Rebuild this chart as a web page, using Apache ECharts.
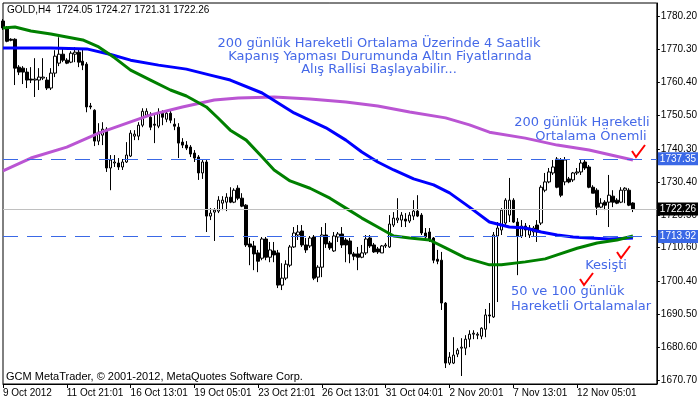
<!DOCTYPE html>
<html>
<head>
<meta charset="utf-8">
<title>GOLD,H4</title>
<script src="https://cdn.jsdelivr.net/npm/echarts@6/dist/echarts.min.js"></script>
<style>
html, body { margin: 0; padding: 0; background: #fff; }
#chart { width: 700px; height: 402px; }
</style>
</head>
<body>
<div id="chart"></div>
<script>
// GOLD H4 mumları, ilk bar 9 Oct 2012 05:01
const barsPerTick = 16;
const tickLabels = ['9 Oct 2012', '11 Oct 21:01', '16 Oct 13:01', '19 Oct 05:01', '23 Oct 21:01',
  '26 Oct 13:01', '31 Oct 04:01', '2 Nov 20:01', '7 Nov 13:01', '12 Nov 05:01'];
const emptySlots = 6; // sağdaki boşluk (chart shift)

const openPrices = [
  1778.9, 1776.8, 1773.4, 1773.4, 1765.0, 1764.7, 1763.5, 1761.4, 1761.1, 1761.1,
  1761.7, 1761.1, 1758.7, 1763.2, 1766.2, 1768.9, 1767.1, 1766.5, 1768.9, 1769.5,
  1766.8, 1765.9, 1753.3, 1752.0, 1742.7, 1744.5, 1746.3, 1734.6, 1736.1, 1736.1,
  1734.9, 1736.4, 1738.2, 1744.2, 1744.2, 1747.5, 1750.5, 1749.9, 1747.8, 1747.2,
  1751.1, 1749.3, 1751.1, 1747.8, 1746.9, 1742.4, 1741.5, 1740.9, 1739.1, 1737.9,
  1733.1, 1736.4, 1720.1, 1721.3, 1721.6, 1724.0, 1724.3, 1725.8, 1724.3, 1728.5,
  1725.5, 1723.4, 1711.7, 1711.1, 1709.0, 1707.4, 1713.2, 1707.7, 1709.6, 1709.0,
  1699.3, 1701.4, 1705.3, 1710.8, 1714.4, 1715.6, 1711.4, 1711.1, 1713.8, 1701.7,
  1704.7, 1714.4, 1712.0, 1709.6, 1713.8, 1714.7, 1712.9, 1712.6, 1708.7, 1708.7,
  1707.7, 1709.0, 1713.5, 1711.4, 1710.2, 1709.0, 1711.1, 1710.8, 1717.4, 1718.9,
  1718.9, 1719.2, 1718.6, 1720.1, 1721.6, 1720.4, 1715.0, 1715.3, 1713.5, 1707.1,
  1706.8, 1693.9, 1675.8, 1675.8, 1678.5, 1680.3, 1680.3, 1683.0, 1684.5, 1684.2,
  1683.9, 1686.0, 1690.3, 1689.7, 1714.1, 1715.9, 1718.0, 1720.4, 1724.9, 1718.3,
  1714.1, 1717.1, 1714.4, 1715.3, 1717.4, 1718.0, 1727.9, 1730.4, 1733.1, 1737.3,
  1737.0, 1730.4, 1731.3, 1731.0, 1733.1, 1733.4, 1736.4, 1734.9, 1728.8, 1727.9,
  1722.8, 1724.3, 1724.3, 1726.1, 1724.9, 1724.3, 1727.9, 1727.9, 1724.05
];
const closePrices = [
  1776.8, 1772.8, 1773.1, 1764.7, 1763.5, 1763.5, 1761.1, 1761.1, 1761.4, 1762.0,
  1762.0, 1758.7, 1763.2, 1768.3, 1768.9, 1767.1, 1766.2, 1769.2, 1769.5, 1766.5,
  1765.6, 1753.0, 1753.0, 1742.7, 1745.4, 1746.3, 1734.6, 1737.0, 1736.4, 1734.9,
  1736.4, 1738.5, 1745.1, 1744.8, 1747.5, 1751.7, 1751.7, 1746.9, 1747.5, 1751.4,
  1749.9, 1751.1, 1749.0, 1747.2, 1742.1, 1741.5, 1740.6, 1738.8, 1737.6, 1733.1,
  1736.4, 1720.1, 1721.0, 1721.9, 1724.9, 1724.9, 1725.8, 1724.3, 1727.9, 1725.5,
  1723.1, 1711.4, 1710.8, 1708.7, 1706.5, 1713.2, 1707.7, 1709.9, 1708.4, 1699.3,
  1701.4, 1705.6, 1710.8, 1715.0, 1715.3, 1711.4, 1709.9, 1713.5, 1701.4, 1704.7,
  1714.4, 1711.7, 1710.5, 1714.1, 1714.7, 1711.4, 1711.4, 1708.7, 1708.0, 1707.7,
  1709.0, 1713.2, 1711.1, 1709.3, 1709.3, 1711.1, 1711.4, 1717.7, 1719.5, 1719.5,
  1720.4, 1718.6, 1720.4, 1721.6, 1720.1, 1715.0, 1713.8, 1713.2, 1706.8, 1706.5,
  1693.9, 1675.8, 1677.6, 1678.2, 1679.7, 1680.6, 1683.0, 1684.5, 1684.8, 1684.5,
  1686.3, 1690.3, 1690.0, 1714.4, 1716.5, 1721.9, 1724.9, 1724.9, 1718.3, 1714.1,
  1717.1, 1715.9, 1716.5, 1716.5, 1715.3, 1728.8, 1730.4, 1733.4, 1734.9, 1728.8,
  1726.4, 1737.0, 1730.4, 1733.1, 1733.4, 1736.1, 1734.6, 1728.8, 1727.0, 1722.8,
  1724.0, 1723.4, 1726.4, 1724.3, 1724.0, 1727.9, 1728.5, 1723.4, 1722.26
];
const lowPrices = [
  1776.2, 1772.5, 1772.8, 1759.6, 1762.6, 1759.9, 1758.7, 1760.2, 1756.0, 1758.1,
  1761.1, 1758.1, 1758.1, 1762.0, 1765.3, 1766.5, 1765.9, 1766.2, 1766.5, 1765.0,
  1764.1, 1751.4, 1752.3, 1741.2, 1741.5, 1741.5, 1733.4, 1727.9, 1734.9, 1734.0,
  1734.0, 1736.1, 1737.9, 1743.0, 1743.0, 1746.9, 1749.9, 1746.0, 1742.1, 1746.6,
  1747.5, 1748.4, 1748.1, 1746.0, 1737.6, 1740.6, 1740.0, 1737.9, 1736.4, 1731.0,
  1731.3, 1715.3, 1718.9, 1712.6, 1721.0, 1721.9, 1721.6, 1724.0, 1724.0, 1724.9,
  1722.8, 1710.8, 1705.3, 1703.8, 1703.2, 1706.8, 1706.8, 1706.2, 1706.2, 1698.4,
  1697.8, 1700.8, 1704.7, 1710.5, 1712.9, 1710.8, 1709.0, 1710.5, 1700.8, 1700.2,
  1701.7, 1710.5, 1709.9, 1709.3, 1712.3, 1710.5, 1706.2, 1705.9, 1706.8, 1703.8,
  1707.4, 1708.4, 1710.5, 1709.0, 1708.7, 1709.0, 1710.5, 1710.5, 1716.8, 1718.0,
  1716.8, 1716.8, 1718.0, 1718.9, 1719.8, 1714.4, 1712.9, 1712.3, 1705.9, 1705.6,
  1691.8, 1674.3, 1675.2, 1675.5, 1677.6, 1671.9, 1678.2, 1680.6, 1683.0, 1683.0,
  1683.0, 1683.6, 1687.8, 1689.4, 1694.2, 1714.4, 1716.8, 1718.3, 1718.0, 1702.3,
  1713.5, 1713.8, 1713.5, 1714.1, 1712.3, 1717.4, 1727.3, 1730.0, 1732.5, 1728.5,
  1725.8, 1729.4, 1730.0, 1730.4, 1732.5, 1732.5, 1734.0, 1728.5, 1727.0, 1720.4,
  1722.5, 1721.9, 1716.8, 1722.8, 1723.7, 1724.0, 1724.0, 1723.1, 1721.31
];
const highPrices = [
  1779.5, 1777.4, 1773.7, 1773.7, 1765.6, 1765.3, 1764.7, 1765.0, 1767.7, 1764.7,
  1767.7, 1762.0, 1764.7, 1770.1, 1774.0, 1771.0, 1767.7, 1769.8, 1771.0, 1770.7,
  1770.7, 1766.5, 1754.2, 1752.3, 1748.1, 1748.4, 1746.9, 1738.5, 1738.5, 1737.6,
  1737.3, 1742.4, 1746.0, 1746.0, 1748.4, 1752.6, 1752.6, 1751.4, 1751.1, 1752.6,
  1752.0, 1752.0, 1752.0, 1749.6, 1748.1, 1743.6, 1742.7, 1741.5, 1740.0, 1738.5,
  1737.0, 1737.0, 1722.5, 1722.5, 1726.1, 1726.1, 1727.0, 1728.8, 1728.5, 1729.4,
  1727.0, 1723.7, 1713.5, 1712.6, 1709.9, 1713.8, 1713.8, 1712.3, 1712.3, 1709.9,
  1705.9, 1706.8, 1711.4, 1716.8, 1717.4, 1717.4, 1713.5, 1714.1, 1714.4, 1705.3,
  1716.8, 1718.0, 1712.6, 1715.3, 1715.3, 1716.8, 1713.5, 1713.5, 1709.3, 1710.8,
  1711.4, 1714.4, 1714.4, 1712.0, 1710.8, 1711.4, 1712.0, 1720.4, 1721.3, 1725.5,
  1721.3, 1721.0, 1721.3, 1724.9, 1726.4, 1721.0, 1716.5, 1716.5, 1713.8, 1709.9,
  1709.3, 1694.2, 1679.1, 1683.6, 1680.3, 1683.3, 1684.2, 1685.7, 1685.7, 1685.1,
  1686.6, 1692.1, 1693.9, 1715.3, 1718.3, 1722.5, 1725.5, 1731.6, 1725.5, 1719.5,
  1718.9, 1718.0, 1717.4, 1717.1, 1718.9, 1729.4, 1733.1, 1734.6, 1737.0, 1737.9,
  1737.6, 1737.9, 1731.9, 1733.4, 1734.6, 1737.0, 1737.3, 1735.5, 1729.4, 1728.5,
  1725.5, 1724.9, 1732.5, 1727.9, 1725.5, 1728.8, 1728.8, 1728.5, 1724.27
];

// hareketli ortalamalar, grafikten okunan noktalar [bar, fiyat]
const ma50 = [[0, 1776.8], [3, 1777.1], [7, 1775.9], [12, 1775.0], [16, 1774.1], [20, 1773.2],
  [24, 1771.1], [28, 1767.8], [32, 1764.1], [37, 1761.1], [42, 1758.1], [46, 1756.3],
  [51, 1753.0], [54, 1749.6], [57, 1746.0], [61, 1743.0], [65, 1737.9], [68, 1734.0],
  [72, 1730.7], [77, 1728.5], [82, 1725.5], [86, 1722.5], [90, 1719.5], [94, 1716.8],
  [98, 1714.1], [102, 1713.5], [107, 1712.9], [111, 1710.5], [116, 1707.5], [122, 1705.4],
  [125, 1705.4], [131, 1706.3], [136, 1707.2], [139, 1708.4], [144, 1710.4], [149, 1712.0],
  [154, 1712.9], [158, 1714.1]];
const ma100 = [[0, 1770.8], [12, 1770.8], [21, 1770.5], [27, 1768.8], [32, 1767.1], [39, 1765.6],
  [46, 1764.4], [52, 1762.6], [57, 1761.1], [65, 1757.2], [73, 1751.2], [81, 1746.7],
  [86, 1743.0], [90, 1739.4], [94, 1736.4], [98, 1734.0], [103, 1731.3], [108, 1729.5],
  [112, 1727.1], [117, 1722.8], [122, 1718.3], [127, 1716.8], [131, 1716.5], [135, 1715.3],
  [139, 1714.4], [143, 1713.8], [147, 1713.5], [152, 1713.2], [158, 1713.5]];
const ma200 = [[0, 1733.7], [7, 1737.6], [16, 1740.9], [24, 1745.1], [32, 1748.5], [37, 1750.6],
  [45, 1753.0], [53, 1755.1], [59, 1755.7], [68, 1756.0], [77, 1755.4], [86, 1754.5],
  [94, 1753.3], [102, 1751.5], [111, 1749.7], [117, 1747.6], [122, 1745.4], [131, 1743.6],
  [139, 1741.5], [147, 1740.0], [158, 1737.0]];

const priceLabels = [1780.20, 1770.30, 1760.40, 1750.50, 1740.30, 1730.40, 1720.50,
  1710.60, 1700.40, 1690.50, 1680.60, 1670.70];
const levelLines = [1737.35, 1713.92];
const lastPrice = 1722.26;
const headerText = 'GOLD,H4  1724.05 1724.27 1721.31 1722.26';
const copyrightText = 'GCM MetaTrader, \u00a9 2001-2012, MetaQuotes Software Corp.';

const mtFont = '"Liberation Sans", sans-serif';
const noteFont = '13px "DejaVu Sans"';
const noteColor = '#4468E8';
const levelColor = '#3A68E6';

const barCount = openPrices.length;
const categories = [];
for (let i = 0; i < barCount + emptySlots; i++) categories.push(String(i));
const candles = openPrices.map((o, i) => [o, closePrices[i], lowPrices[i], highPrices[i]]);
const isTick = (i) => i % barsPerTick === 0 && i < barCount;

const levelLabel = (bg) => ({
  show: true, position: 'end', distance: 1, align: 'left', verticalAlign: 'middle',
  formatter: (p) => p.value.toFixed(2),
  color: '#fff', backgroundColor: bg, padding: [2, 2, 1, 2],
  fontSize: 10, fontFamily: mtFont
});

// yatay çizgi: kendi serisi, kendi rengi
function levelSeries(name, value, color, dash, labelBg) {
  return {
    name: name, type: 'line', data: [], silent: true, z: 1,
    itemStyle: { color: color },
    lineStyle: { color: color },
    markLine: {
      silent: true, symbol: ['none', 'none'], animation: false,
      lineStyle: { color: color, type: dash, width: 1 },
      emphasis: { disabled: true },
      label: levelLabel(labelBg),
      data: [{ yAxis: value }]
    }
  };
}

function note(text, x, y, align) {
  return { type: 'text', x: x, y: y, silent: true,
    style: { text: text, fill: noteColor, font: noteFont, textAlign: align || 'center', textVerticalAlign: 'middle' } };
}
function tick(x, y) {
  return { type: 'polyline', silent: true,
    shape: { points: [[x, y + 6], [x + 4, y + 12], [x + 13, y]] },
    style: { stroke: '#ff0000', lineWidth: 2, fill: null } };
}

const chart = echarts.init(document.getElementById('chart'));
chart.setOption({
  animation: false,
  backgroundColor: '#fff',
  grid: { left: 3, top: 3, right: 40, bottom: 18, show: true, borderColor: '#000', borderWidth: 1 },
  xAxis: {
    type: 'category',
    data: categories,
    boundaryGap: false,
    axisLine: { show: true, lineStyle: { color: '#000' } },
    axisTick: { show: true, length: 4, interval: isTick, lineStyle: { color: '#000' } },
    axisLabel: {
      interval: isTick, align: 'left', margin: 4, color: '#000', fontSize: 10, fontFamily: mtFont,
      formatter: (v, i) => tickLabels[i / barsPerTick] || ''
    },
    splitLine: { show: false }
  },
  yAxis: {
    type: 'value', position: 'right',
    min: 1669.49, max: 1784.33,
    axisLine: { show: true, lineStyle: { color: '#000' } },
    axisTick: { show: true, length: 3, customValues: priceLabels, lineStyle: { color: '#000' } },
    axisLabel: {
      customValues: priceLabels, margin: 4, color: '#000', fontSize: 10, fontFamily: mtFont,
      formatter: (v) => v.toFixed(2)
    },
    splitLine: { show: false }
  },
  series: [
    levelSeries('level1', levelLines[0], levelColor, [15, 9], levelColor),
    levelSeries('level2', levelLines[1], levelColor, [15, 9], levelColor),
    levelSeries('last', lastPrice, '#C0C0C0', 'solid', '#000'),
    {
      name: 'GOLD', type: 'candlestick', data: candles, barWidth: 3, z: 2,
      itemStyle: { color: '#fff', color0: '#000', borderColor: '#000', borderColor0: '#000', borderWidth: 1 }
    },
    { name: 'MA200', type: 'line', data: ma200, showSymbol: false, z: 3, lineStyle: { color: '#BA55D3', width: 3 } },
    { name: 'MA100', type: 'line', data: ma100, showSymbol: false, z: 3, lineStyle: { color: '#0000FF', width: 3 } },
    { name: 'MA50', type: 'line', data: ma50, showSymbol: false, z: 3, lineStyle: { color: '#008000', width: 3 } }
  ],
  graphic: [
    { type: 'text', x: 7, y: 10, silent: true,
      style: { text: headerText, fill: '#000', font: '10px ' + mtFont, textVerticalAlign: 'middle' } },
    { type: 'text', x: 6, y: 377, silent: true,
      style: { text: copyrightText, fill: '#000', font: '11px ' + mtFont, textVerticalAlign: 'middle' } },
    note('200 günlük Hareketli Ortalama Üzerinde 4 Saatlik', 379, 44),
    note('Kapanış Yapması Durumunda Altın Fiyatlarında', 380, 57),
    note('Alış Rallisi Başlayabilir...', 379, 70),
    note('200 günlük Hareketli', 582, 123),
    note('Ortalama Önemli', 591, 137),
    note('Kesişti', 606, 266),
    note('50 ve 100 günlük', 511, 292, 'left'),
    note('Hareketli Ortalamalar', 511, 307, 'left'),
    tick(632, 145),
    tick(617, 246),
    tick(580, 273)
  ]
});
</script>
</body>
</html>
